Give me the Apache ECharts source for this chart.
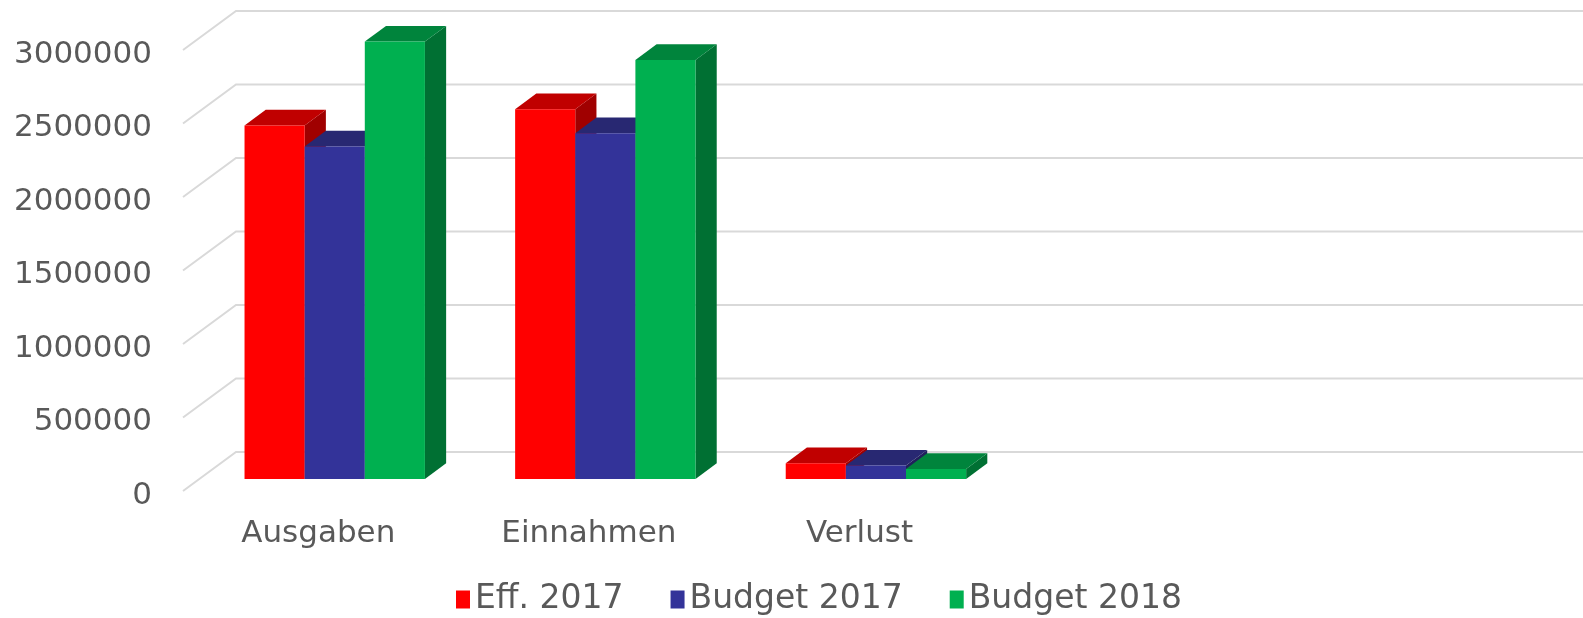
<!DOCTYPE html>
<html>
<head>
<meta charset="utf-8">
<script src="https://cdn.jsdelivr.net/npm/echarts@6/dist/echarts.min.js"></script>
<style>
  html, body { margin: 0; padding: 0; background: #fff; }
  #chart { width: 1583px; height: 618px; }
</style>
</head>
<body>
<div id="chart"></div>
<script>
const categories = ['Ausgaben', 'Einnahmen', 'Verlust', '', ''];
const seriesNames = ['Eff. 2017', 'Budget 2017', 'Budget 2018'];
const eff2017 = [2405000, 2515000, 107000];
const budget2017 = [2262000, 2352000, 91000];
const budget2018 = [2975000, 2850000, 68000];
const yTicks = [0, 500000, 1000000, 1500000, 2000000, 2500000, 3000000];

// face colours: front, top, side
const palette = [
    ['#ff0000', '#c00000', '#a00000'],
    ['#333399', '#282872', '#20205c'],
    ['#00b050', '#00843c', '#007033']
];

// oblique depth of the floor (front plane -> back wall)
const DX = 53, DY = -39;
// bar sits between these depth fractions
const D0 = 0.31, D1 = 0.71;

const font = 'DejaVu Sans';
const chart = echarts.init(document.getElementById('chart'));

function gridRender(params, api) {
    const cs = params.coordSys;
    const p = api.coord([0, api.value(1)]);
    return {
        type: 'polyline',
        shape: { points: [[cs.x, p[1]], [cs.x + DX, p[1] + DY], [cs.x + cs.width + DX + 20, p[1] + DY]] },
        style: { stroke: '#d9d9d9', lineWidth: 2, fill: null }
    };
}

function barRender(s) {
    return function (params, api) {
        const i = api.value(0);
        const v = api.value(1);
        const band = api.size([1, 0])[0];
        const w = band / 4.5;
        const c = api.coord([i, v]);
        const b = api.coord([i, 0]);
        const x0 = c[0] - band / 2 + 0.75 * w + s * w + D0 * DX;
        const yt = c[1] + D0 * DY;
        const yb = b[1] + D0 * DY;
        const dx = (D1 - D0) * DX, dy = (D1 - D0) * DY;
        const col = palette[s];
        return {
            type: 'group',
            children: [
                { type: 'polygon', shape: { points: [[x0 + w, yt], [x0 + w + dx, yt + dy], [x0 + w + dx, yb + dy], [x0 + w, yb]] }, style: { fill: col[2] } },
                { type: 'polygon', shape: { points: [[x0, yt], [x0 + w, yt], [x0 + w + dx, yt + dy], [x0 + dx, yt + dy]] }, style: { fill: col[1] } },
                { type: 'rect', shape: { x: x0, y: yt, width: w, height: yb - yt }, style: { fill: col[0] } }
            ]
        };
    };
}

const values = [eff2017, budget2017, budget2018];
const barSeries = values.map((arr, s) => ({
    type: 'custom',
    name: seriesNames[s],
    itemStyle: { color: palette[s][0] },
    renderItem: barRender(s),
    encode: { x: 0, y: 1 },
    data: arr.map((v, i) => [i, v]),
    z: 3 + s
}));

const option = {
    animation: false,
    backgroundColor: '#ffffff',
    grid: { left: 183, right: 47, top: 50, bottom: 127, containLabel: false, outerBoundsMode: 'none' },
    legend: {
        data: seriesNames,
        left: 451,
        top: 578,
        icon: 'rect',
        itemWidth: 14,
        itemHeight: 18,
        itemGap: 47,
        textStyle: { fontFamily: font, fontSize: 33, color: '#595959' }
    },
    xAxis: {
        type: 'category',
        data: categories,
        axisLine: { show: false },
        axisTick: { show: false },
        splitLine: { show: false },
        axisLabel: { fontFamily: font, fontSize: 31, color: '#595959', margin: 27, interval: 0 }
    },
    yAxis: {
        type: 'value',
        min: 0,
        max: 3000000,
        interval: 500000,
        axisLine: { show: false },
        axisTick: { show: false },
        splitLine: { show: false },
        axisLabel: {
            margin: 31,
            formatter: v => '{n|' + v + '}',
            rich: { n: { fontFamily: font, fontSize: 31, color: '#595959', padding: [9, 0, 0, 0] } }
        }
    },
    series: [{
        type: 'custom',
        silent: true,
        renderItem: gridRender,
        encode: { x: 0, y: 1 },
        data: yTicks.map(v => [0, v]),
        z: 1
    }].concat(barSeries)
};
chart.setOption(option);
</script>
</body>
</html>
